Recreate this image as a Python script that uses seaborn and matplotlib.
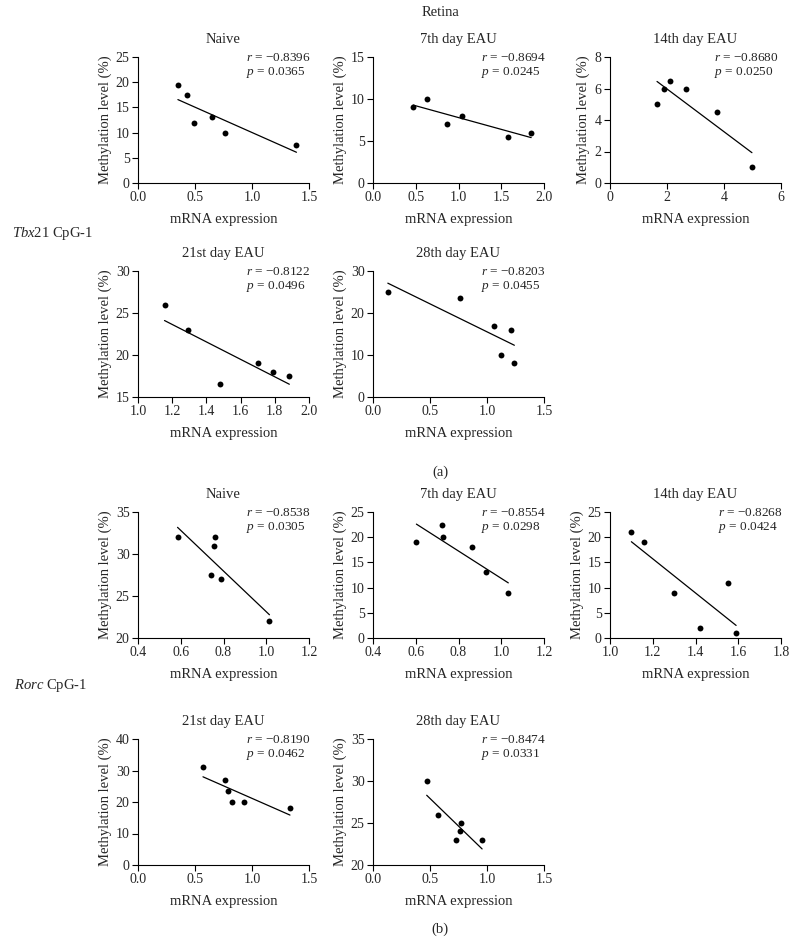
import matplotlib
matplotlib.use("Agg")
import matplotlib.pyplot as plt
import seaborn as sns
import numpy as np

# Tbx21 CpG-1 (a)
tbx_naive_x = [0.35, 0.43, 0.49, 0.65, 0.76, 1.39]
tbx_naive_y = [19.5, 17.5, 12, 13, 10, 7.5]
tbx_d7_x = [0.47, 0.63, 0.87, 1.04, 1.58, 1.85]
tbx_d7_y = [9, 10, 7, 8, 5.5, 6]
tbx_d14_x = [1.65, 1.9, 2.1, 2.65, 3.75, 4.98]
tbx_d14_y = [5, 6, 6.5, 6, 4.5, 1]
tbx_d21_x = [1.155, 1.29, 1.48, 1.70, 1.79, 1.885]
tbx_d21_y = [26, 23, 16.5, 19, 18, 17.5]
tbx_d28_x = [0.13, 0.76, 1.06, 1.12, 1.21, 1.24]
tbx_d28_y = [25, 23.5, 17, 10, 16, 8]

# Rorc CpG-1 (b)
rorc_naive_x = [0.585, 0.743, 0.757, 0.760, 0.788, 1.015]
rorc_naive_y = [32, 27.5, 31, 32, 27, 22]
rorc_d7_x = [0.603, 0.721, 0.729, 0.861, 0.928, 1.033]
rorc_d7_y = [19, 22.5, 20, 18, 13, 9]
rorc_d14_x = [1.10, 1.16, 1.30, 1.42, 1.553, 1.59]
rorc_d14_y = [21, 19, 9, 2, 11, 1]
rorc_d21_x = [0.57, 0.766, 0.789, 0.825, 0.927, 1.333]
rorc_d21_y = [31, 27, 23.5, 20, 20, 18]
rorc_d28_x = [0.471, 0.566, 0.728, 0.760, 0.775, 0.957]
rorc_d28_y = [30, 26, 23, 24, 25, 23]

titles = ["Naive", "7th day EAU", "14th day EAU", "21st day EAU", "28th day EAU"]
tbx_r = ["−0.8396", "−0.8694", "−0.8680", "−0.8122", "−0.8203"]
tbx_p = ["0.0365", "0.0245", "0.0250", "0.0496", "0.0455"]
rorc_r = ["−0.8538", "−0.8554", "−0.8268", "−0.8190", "−0.8474"]
rorc_p = ["0.0305", "0.0298", "0.0424", "0.0462", "0.0331"]

sns.set_theme(style="ticks")
plt.rcParams['font.family'] = ['Liberation Serif', 'DejaVu Serif']
plt.rcParams['mathtext.fontset'] = 'custom'
plt.rcParams['mathtext.rm'] = 'Liberation Serif'
plt.rcParams['mathtext.it'] = 'Liberation Serif:italic'
plt.rcParams['axes.unicode_minus'] = True

W, H = 798, 944
fig = plt.figure(figsize=(W / 100, H / 100), dpi=100)

cols = [138, 373, 610]
rows = [183, 397, 638, 865]  # unterkante der achsen in pixel
aw, ah = 171, 126


def panel(col, row, x, y, title, r, p, xlim, xstep, ylim, ystep, tx=0.63):
    ax = fig.add_axes([cols[col] / W, 1 - rows[row] / H, aw / W, ah / H])
    sns.regplot(x=np.array(x), y=np.array(y), ax=ax, ci=None, truncate=True,
                scatter_kws=dict(s=18, color="black", alpha=1, linewidths=0),
                line_kws=dict(color="black", lw=0.9))
    ax.set_xlim(xlim)
    ax.set_ylim(ylim)
    ax.set_xticks(np.arange(xlim[0], xlim[1] + xstep / 2, xstep))
    ax.set_yticks(np.arange(ylim[0], ylim[1] + ystep / 2, ystep))
    fmt = "{:.0f}" if xstep >= 1 else "{:.1f}"
    ax.set_xticklabels([fmt.format(v) for v in ax.get_xticks()])
    ax.set_yticklabels(["{:.0f}".format(v) for v in ax.get_yticks()])
    ax.set_title(title, fontsize=10.5, pad=10)
    ax.set_xlabel("mRNA expression", fontsize=10.5, labelpad=6)
    ax.set_ylabel("Methylation level (%)", fontsize=10.5, labelpad=3)
    ax.tick_params(labelsize=10, length=4, width=0.8, pad=2, color="black")
    for s in ["left", "bottom"]:
        ax.spines[s].set_linewidth(0.8)
        ax.spines[s].set_color("black")
    sns.despine(ax=ax)
    ax.text(tx, 0.99, "$r$ = " + r, transform=ax.transAxes, fontsize=9.5, va="center", ha="left")
    ax.text(tx, 0.875, "$p$ = " + p, transform=ax.transAxes, fontsize=9.5, va="center", ha="left")
    return ax


panel(0, 0, tbx_naive_x, tbx_naive_y, titles[0], tbx_r[0], tbx_p[0], (0, 1.5), 0.5, (0, 25), 5)
panel(1, 0, tbx_d7_x, tbx_d7_y, titles[1], tbx_r[1], tbx_p[1], (0, 2.0), 0.5, (0, 15), 5)
panel(2, 0, tbx_d14_x, tbx_d14_y, titles[2], tbx_r[2], tbx_p[2], (0, 6), 2, (0, 8), 2, tx=0.61)
panel(0, 1, tbx_d21_x, tbx_d21_y, titles[3], tbx_r[3], tbx_p[3], (1.0, 2.0), 0.2, (15, 30), 5)
panel(1, 1, tbx_d28_x, tbx_d28_y, titles[4], tbx_r[4], tbx_p[4], (0, 1.5), 0.5, (0, 30), 10)

panel(0, 2, rorc_naive_x, rorc_naive_y, titles[0], rorc_r[0], rorc_p[0], (0.4, 1.2), 0.2, (20, 35), 5)
panel(1, 2, rorc_d7_x, rorc_d7_y, titles[1], rorc_r[1], rorc_p[1], (0.4, 1.2), 0.2, (0, 25), 5)
panel(2, 2, rorc_d14_x, rorc_d14_y, titles[2], rorc_r[2], rorc_p[2], (1.0, 1.8), 0.2, (0, 25), 5)
panel(0, 3, rorc_d21_x, rorc_d21_y, titles[3], rorc_r[3], rorc_p[3], (0, 1.5), 0.5, (0, 40), 10)
panel(1, 3, rorc_d28_x, rorc_d28_y, titles[4], rorc_r[4], rorc_p[4], (0, 1.5), 0.5, (20, 35), 5)

fig.text(440 / W, 1 - 13 / H, "Retina", ha="center", va="center", fontsize=10.5)
fig.text(12 / W, 1 - 233 / H, r"$\mathit{Tbx}$21 CpG-1", ha="left", va="center", fontsize=10.5)
fig.text(14 / W, 1 - 686 / H, r"$\mathit{Rorc}$ CpG-1", ha="left", va="center", fontsize=10.5)
fig.text(440 / W, 1 - 472 / H, "(a)", ha="center", va="center", fontsize=10.5)
fig.text(440 / W, 1 - 929 / H, "(b)", ha="center", va="center", fontsize=10.5)

fig.savefig("out.png", dpi=100)
